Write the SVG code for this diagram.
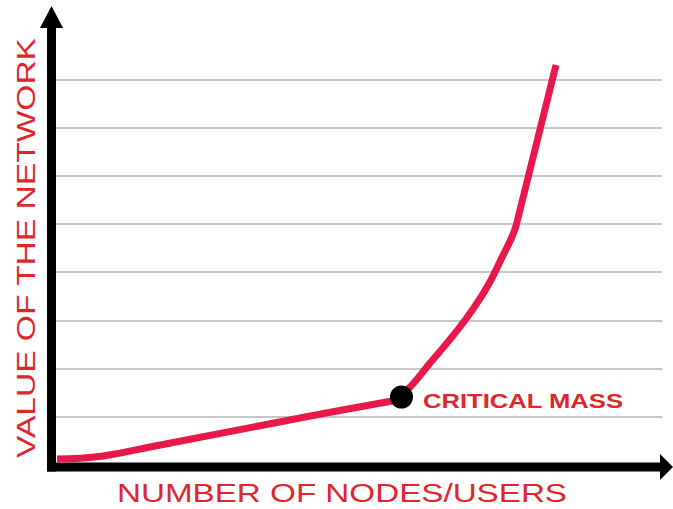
<svg xmlns="http://www.w3.org/2000/svg" width="673" height="509" viewBox="0 0 673 509">
  <style>
    .grid { stroke: #b5b5b5; stroke-width: 1.6; fill: none; }
    .axis { stroke: #000; stroke-width: 9; fill: none; }
    .head { fill: #000; }
    .curve { stroke: #e8194a; stroke-width: 7; fill: none; stroke-linejoin: round; stroke-linecap: butt; }
    .label { font-family: "Liberation Sans", Arial, sans-serif; fill: #e0262a; }
  </style>

  <!-- horizontal value gridlines -->
  <g id="gridlines">
    <line class="grid" x1="56" y1="80" x2="662" y2="80"/>
    <line class="grid" x1="56" y1="128" x2="662" y2="128"/>
    <line class="grid" x1="56" y1="176" x2="662" y2="176"/>
    <line class="grid" x1="56" y1="224" x2="662" y2="224"/>
    <line class="grid" x1="56" y1="272" x2="662" y2="272"/>
    <line class="grid" x1="56" y1="321" x2="662" y2="321"/>
    <line class="grid" x1="56" y1="369" x2="662" y2="369"/>
    <line class="grid" x1="56" y1="417" x2="662" y2="417"/>
  </g>

  <!-- axes with arrowheads -->
  <g id="axes">
    <line class="axis" x1="51.5" y1="26" x2="51.5" y2="471.5"/>
    <line class="axis" x1="47" y1="467" x2="662" y2="467"/>
    <polygon class="head" points="51.5,6 40,28 63,28"/>
    <polygon class="head" points="673,467 660,454 660,480"/>
  </g>

  <!-- network value curve -->
  <g id="connectors">
    <path class="curve" d="M57,459 C100,459 125,452 150,447 L300,418 C340,410.3 370,405 392,401 C408,392 414,383 430,363 C450,340 480,305 497,268 C505,250 512,240 516,226 L556,65"/>
  </g>

  <!-- critical mass marker -->
  <g id="critical-mass">
    <circle cx="401.5" cy="397" r="11.5" fill="#000"/>
    <text class="label" x="423" y="408" font-size="20" font-weight="bold" textLength="200" lengthAdjust="spacingAndGlyphs">CRITICAL MASS</text>
  </g>

  <!-- axis titles -->
  <g id="x-label">
    <text class="label" x="117" y="502" font-size="25" textLength="450" lengthAdjust="spacingAndGlyphs">NUMBER OF NODES/USERS</text>
  </g>
  <g id="y-label">
    <text class="label" transform="translate(35,458) rotate(-90)" x="0" y="0" font-size="26" textLength="420" lengthAdjust="spacingAndGlyphs">VALUE OF THE NETWORK</text>
  </g>
</svg>
